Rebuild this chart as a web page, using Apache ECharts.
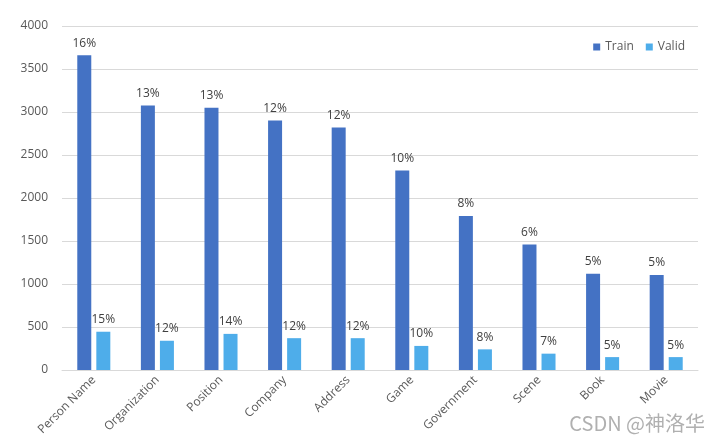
<!DOCTYPE html>
<html><head><meta charset="utf-8">
<script src="https://cdn.jsdelivr.net/npm/echarts@6/dist/echarts.min.js"></script>
<style>html,body{margin:0;padding:0;background:#fff}#c{width:720px;height:442px}</style>
</head><body><div id="c"></div>
<script>
const categories = ["Person Name","Organization","Position","Company","Address","Game","Government","Scene","Book","Movie"];
const trainValues = [3660,3075,3050,2900,2820,2320,1790,1460,1120,1105];
const validValues = [445,340,420,370,370,280,240,190,150,150];
const trainPct = ["16%","13%","13%","12%","12%","10%","8%","6%","5%","5%"];
const validPct = ["15%","12%","14%","12%","12%","10%","8%","7%","5%","5%"];
const yTicks = [0,500,1000,1500,2000,2500,3000,3500,4000];

const font = "'Open Sans', 'Noto Sans', sans-serif";
const chart = echarts.init(document.getElementById('c'));
chart.setOption({
  animation:false,
  textStyle:{fontFamily:font},
  grid:{left:62,right:22,top:26,bottom:72},
  legend:{right:30,top:36,itemWidth:7,itemHeight:7,itemGap:12,icon:'rect',
    textStyle:{color:'#595959',fontSize:12,fontFamily:font},
    data:['Train','Valid']},
  xAxis:{type:'category',data:categories,
    axisLine:{lineStyle:{color:'#d9d9d9'}},axisTick:{show:false},
    axisLabel:{rotate:45,color:'#595959',fontSize:12,margin:8,interval:0,fontFamily:font}},
  yAxis:{type:'value',min:yTicks[0],max:yTicks[yTicks.length-1],interval:500,
    axisLine:{show:false},axisTick:{show:false},
    splitLine:{lineStyle:{color:'#d9d9d9'}},
    axisLabel:{color:'#595959',fontSize:12,margin:14,fontFamily:font,formatter:v=>String(v)}},
  series:[
    {name:'Train',type:'bar',data:trainValues,barWidth:14,barGap:'36%',
     itemStyle:{color:'#4472C4'},
     label:{show:true,position:'top',distance:6,color:'#404040',fontSize:12,fontFamily:font,
       formatter:p=>trainPct[p.dataIndex]}},
    {name:'Valid',type:'bar',data:validValues,barWidth:14,
     itemStyle:{color:'#4EADEA'},
     label:{show:true,position:'top',distance:6,color:'#404040',fontSize:12,fontFamily:font,
       formatter:p=>validPct[p.dataIndex]}}
  ],
  graphic:[{type:'text',right:15,top:413,style:{text:'CSDN @神洛华',fill:'#b0b0b0',
    font:"20px 'Noto Sans CJK SC', sans-serif"}}]
});
</script></body></html>
